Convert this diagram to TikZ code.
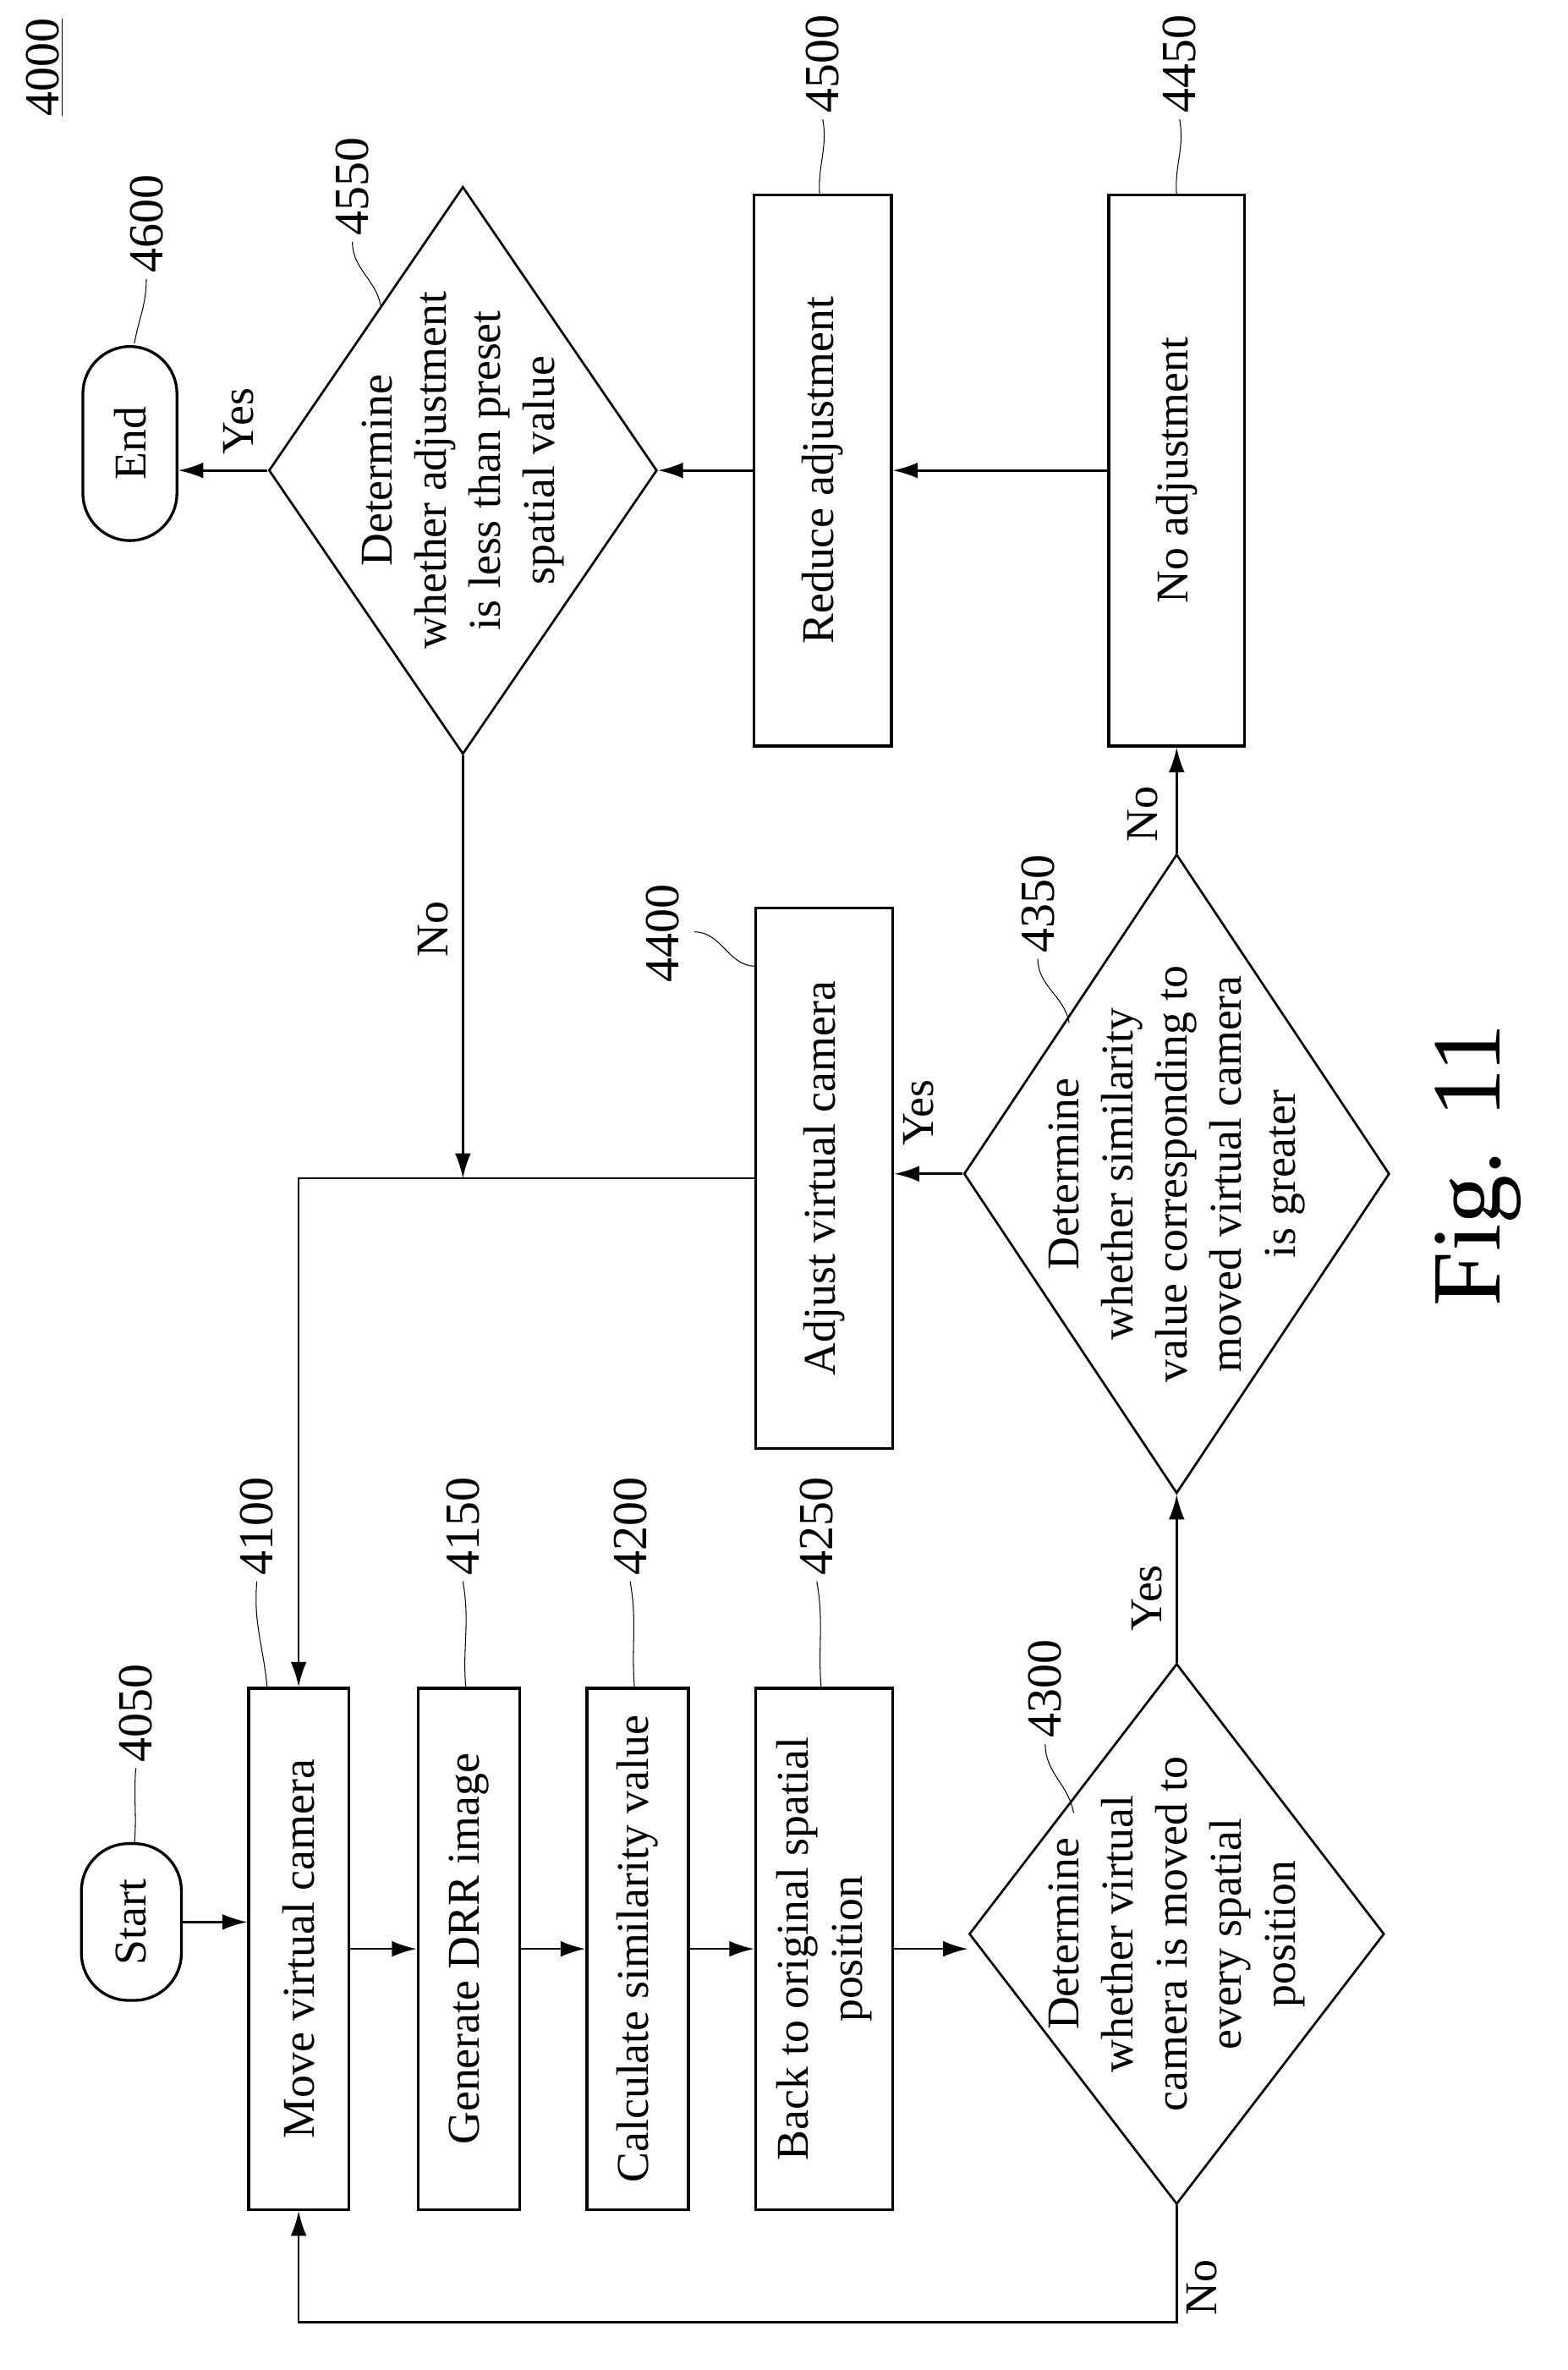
\documentclass[tikz,border=0pt]{standalone}
\usepackage{fontspec}
\setmainfont{Liberation Serif}
\usetikzlibrary{shapes.geometric,arrows.meta}
\begin{document}
\begin{tikzpicture}[x=0.03cm,y=-0.03cm,
  every node/.style={font=\fontsize{26}{31}\selectfont},
  box/.style={draw,line width=1.6pt,rotate=90,inner sep=0pt,align=center},
  term/.style={box,rounded corners=0.95cm},
  dia/.style={draw,line width=1.3pt,diamond,rotate=90,inner sep=0pt},
  dtxt/.style={rotate=90,align=center},
  lab/.style={rotate=90},
  num/.style={rotate=90,font=\fontsize{28}{31}\selectfont},
  arr/.style={line width=1.3pt,-{Latex[length=0.5cm,width=0.32cm]}},
  sq/.style={line width=0.5pt}]
\useasboundingbox (0,0) rectangle (1050,1587);
\node[term,minimum width=3.15cm,minimum height=2.01cm] (start) at (88,1287) {Start};
\node[term,minimum width=3.9cm,minimum height=1.89cm] (end) at (87,297) {End};
\node[box,minimum width=10.47cm,minimum height=2.01cm] (move) at (200,1305) {Move virtual camera};
\node[box,minimum width=10.47cm,minimum height=2.04cm] (drr) at (314,1305) {Generate DRR image};
\node[box,minimum width=10.47cm,minimum height=2.04cm] (calc) at (427,1305) {Calculate similarity value};
\node[box,minimum width=10.47cm,minimum height=2.76cm] (back) at (552,1305) {Back to original spatial\\position};
\node[box,minimum width=10.86cm,minimum height=2.76cm] (adj) at (552,789) {Adjust virtual camera};
\node[box,minimum width=11.07cm,minimum height=2.76cm] (red) at (551,315) {Reduce adjustment};
\node[box,minimum width=11.07cm,minimum height=2.73cm] (noadj) at (788,315) {No adjustment};
\node[dia,minimum width=10.86cm,minimum height=8.34cm] (d1) at (788,1295) {};
\node[dtxt] (t1) at (d1) {Determine\\whether virtual\\camera is moved to\\every spatial\\position};
\node[dia,minimum width=12.84cm,minimum height=8.55cm] (d2) at (788,786) {};
\node[dtxt] (t2) at (d2) {Determine\\whether similarity\\value corresponding to\\moved virtual camera\\is greater};
\node[dia,minimum width=11.4cm,minimum height=7.8cm] (d3) at (310,315) {};
\node[dtxt] (t3) at (d3) {Determine\\whether adjustment\\is less than preset\\spatial value};
\draw[arr] (start.south) -- (start.south -| move.north);
\draw[arr] (move.south) -- (drr.north);
\draw[arr] (drr.south) -- (calc.north);
\draw[arr] (calc.south) -- (back.north);
\draw[arr] (back.south) -- (back.south -| d1.north);
\coordinate (c1) at (788,1555);
\draw[arr] (d1.west) -- (c1) -| (move.west);
\draw[arr] (d1.east) -- (d2.west);
\draw[arr] (d2.north) -- (d2.north -| adj.south);
\draw[arr] (adj.north) -| (move.east);
\draw[arr] (d3.west) -- (d3.west |- adj.north);
\draw[arr] (d2.east) -- (noadj.west);
\draw[arr] (noadj.north) -- (red.south);
\draw[arr] (red.north) -- (red.north -| d3.south);
\draw[arr] (d3.north) -- (d3.north -| end.south);
\node[lab] (n1) at (805,1532) {No};
\node[lab] (y1) at (768,1070) {Yes};
\node[lab] (y2) at (615,745) {Yes};
\node[lab] (n2) at (765,545) {No};
\node[lab] (n3) at (290,622) {No};
\node[lab] (y3) at (160,282) {Yes};
\node[num] (l4050) at (91,1147) {4050};
\coordinate (e4050) at (90,1235);
\draw[sq] (l4050.west) to[out=-95,in=85] (e4050);
\node[num] (l4100) at (172,1022) {4100};
\coordinate (e4100) at (179,1131);
\draw[sq] (l4100.west) to[out=-95,in=95] (e4100);
\node[num] (l4150) at (310,1022) {4150};
\coordinate (e4150) at (312,1131);
\draw[sq] (l4150.west) to[out=-80,in=95] (e4150);
\node[num] (l4200) at (422,1022) {4200};
\coordinate (e4200) at (425,1131);
\draw[sq] (l4200.west) to[out=-80,in=95] (e4200);
\node[num] (l4250) at (547,1022) {4250};
\coordinate (e4250) at (550,1131);
\draw[sq] (l4250.west) to[out=-80,in=95] (e4250);
\node[num] (l4300) at (700,1131) {4300};
\coordinate (e4300) at (719,1214);
\draw[sq] (l4300.west) to[out=-90,in=100] (e4300);
\node[num] (l4350) at (695,605) {4350};
\coordinate (e4350) at (716,685);
\draw[sq] (l4350.west) to[out=-90,in=100] (e4350);
\node[num] (l4400) at (444,625) {4400};
\coordinate (s4400) at (465,624);
\coordinate (e4400) at (506,647);
\draw[sq] (s4400) to[out=0,in=180] (e4400);
\node[num] (l4450) at (790,43) {4450};
\coordinate (e4450) at (788,131);
\draw[sq] (l4450.west) to[out=-80,in=95] (e4450);
\node[num] (l4500) at (551,43) {4500};
\coordinate (e4500) at (549,131);
\draw[sq] (l4500.west) to[out=-80,in=95] (e4500);
\node[num] (l4550) at (236,125) {4550};
\coordinate (e4550) at (255,205);
\draw[sq] (l4550.west) to[out=-90,in=100] (e4550);
\node[num] (l4600) at (98,150) {4600};
\coordinate (e4600) at (90,230);
\draw[sq] (l4600.west) to[out=-90,in=80] (e4600);
\node[num] (l4000) at (30,45) {\underline{4000}};
\node[lab,font=\fontsize{56}{64}\selectfont] (fig) at (990,780) {Fig. 11};
\end{tikzpicture}
\end{document}
